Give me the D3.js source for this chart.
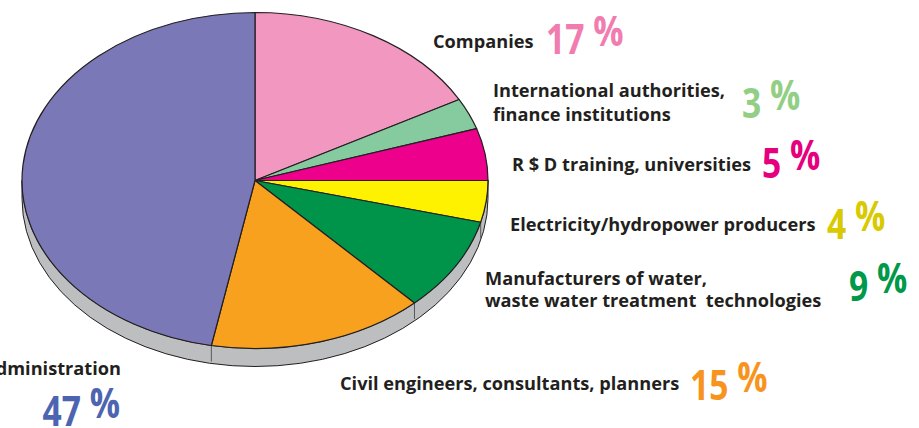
<!DOCTYPE html>
<html>
<head>
<meta charset="utf-8">
<script src="https://cdn.jsdelivr.net/npm/d3@7"></script>
<style>
  body { margin: 0; background: #fff; }
  svg { display: block; }
  text { font-family: "Open Sans", "Noto Sans", sans-serif; white-space: pre; }
</style>
</head>
<body>
<svg id="chart"></svg>
<script>
// data, clockwise from 12 o'clock
const categories = ["Companies", "International authorities, finance institutions",
  "R $ D training, universities", "Electricity/hydropower producers",
  "Manufacturers of water, waste water treatment  technologies",
  "Civil engineers, consultants, planners", "Administration"];
const shares = [17, 3, 5, 4, 9, 15, 47];
const labelLines = [
  ["Companies"],
  ["International authorities,", "finance institutions"],
  ["R $ D training, universities"],
  ["Electricity/hydropower producers"],
  ["Manufacturers of water,", "waste water treatment  technologies"],
  ["Civil engineers, consultants, planners"],
  ["Administration"]
];

const sliceColors = ["#f297c0", "#86cba0", "#ec008c", "#fff200", "#00934a", "#f7a11e", "#7b78b8"];
const pctColors = ["#f07cb0", "#92cf85", "#e6007e", "#d8c900", "#00994a", "#f7941d", "#4d64b0"];

// label placement: text start / baseline, line gap, percent start / baseline
const labelPos = [
  { x: 433, y: 48, gap: 0, px: 546, py: 54 },
  { x: 493, y: 97, gap: 24, px: 742, py: 118 },
  { x: 512, y: 171, gap: 0, px: 762, py: 178 },
  { x: 510, y: 231, gap: 0, px: 827, py: 239 },
  { x: 485, y: 285, gap: 22, px: 849, py: 301 },
  { x: 340, y: 390, gap: 0, px: 690, py: 400 },
  { x: 121, y: 375, gap: 0, px: 120, py: 426, anchor: "end" }
];

const width = 919, height = 428;
const cx = 255, cy = 180.5, rx = 233, ry = 168, depth = 18;

const svg = d3.select("#chart")
  .attr("width", width)
  .attr("height", height);

const pie = d3.pie().sort(null).value(d => d);
const arcs = pie(shares);

// side of the disc (visible lower half)
svg.append("path")
  .attr("d", `M${cx + rx},${cy} A${rx},${ry} 0 0 1 ${cx - rx},${cy} L${cx - rx},${cy + depth} A${rx},${ry} 0 0 0 ${cx + rx},${cy + depth} Z`)
  .attr("fill", "#bcbec0")
  .attr("stroke", "#231f20")
  .attr("stroke-width", 1);

// dividers on the side where slice edges meet the rim
const edges = arcs.map(a => a.endAngle)
  .filter(a => a > Math.PI / 2 + 0.01 && a < 3 * Math.PI / 2);
svg.append("g")
  .selectAll("line")
  .data(edges)
  .join("line")
  .attr("x1", a => cx + rx * Math.sin(a))
  .attr("x2", a => cx + rx * Math.sin(a))
  .attr("y1", a => cy - ry * Math.cos(a))
  .attr("y2", a => cy - ry * Math.cos(a) + depth - 2)
  .attr("stroke", "#58595b")
  .attr("stroke-width", 1);

// top face: circular arcs squashed into an ellipse
const arc = d3.arc().innerRadius(0).outerRadius(ry);
svg.append("g")
  .attr("transform", `translate(${cx},${cy}) scale(${rx / ry},1)`)
  .selectAll("path")
  .data(arcs)
  .join("path")
  .attr("d", arc)
  .attr("fill", (d, i) => sliceColors[i])
  .attr("stroke", "#231f20")
  .attr("stroke-width", 1.2)
  .attr("stroke-linejoin", "round")
  .attr("vector-effect", "non-scaling-stroke");

// labels
const lbl = svg.append("g")
  .selectAll("g")
  .data(categories)
  .join("g");

lbl.each(function(d, i) {
  const g = d3.select(this);
  const p = labelPos[i];
  g.selectAll("text.name")
    .data(labelLines[i])
    .join("text")
    .attr("class", "name")
    .attr("x", p.x)
    .attr("y", (t, j) => p.y + j * p.gap)
    .attr("text-anchor", p.anchor || "start")
    .attr("font-size", 18.2)
    .attr("font-weight", 700)
    .attr("fill", "#231f20")
    .text(t => t);

  // big percentage, a bit condensed, with the % sign raised
  const pct = g.append("text")
    .attr("transform", `translate(${p.px},${p.py}) scale(0.8,1)`)
    .attr("text-anchor", p.anchor || "start")
    .attr("font-size", 42)
    .attr("font-weight", 700)
    .attr("fill", pctColors[i]);
  pct.append("tspan").text(shares[i] + " ");
  pct.append("tspan").attr("dy", -8).text("%");
});
</script>
</body>
</html>
